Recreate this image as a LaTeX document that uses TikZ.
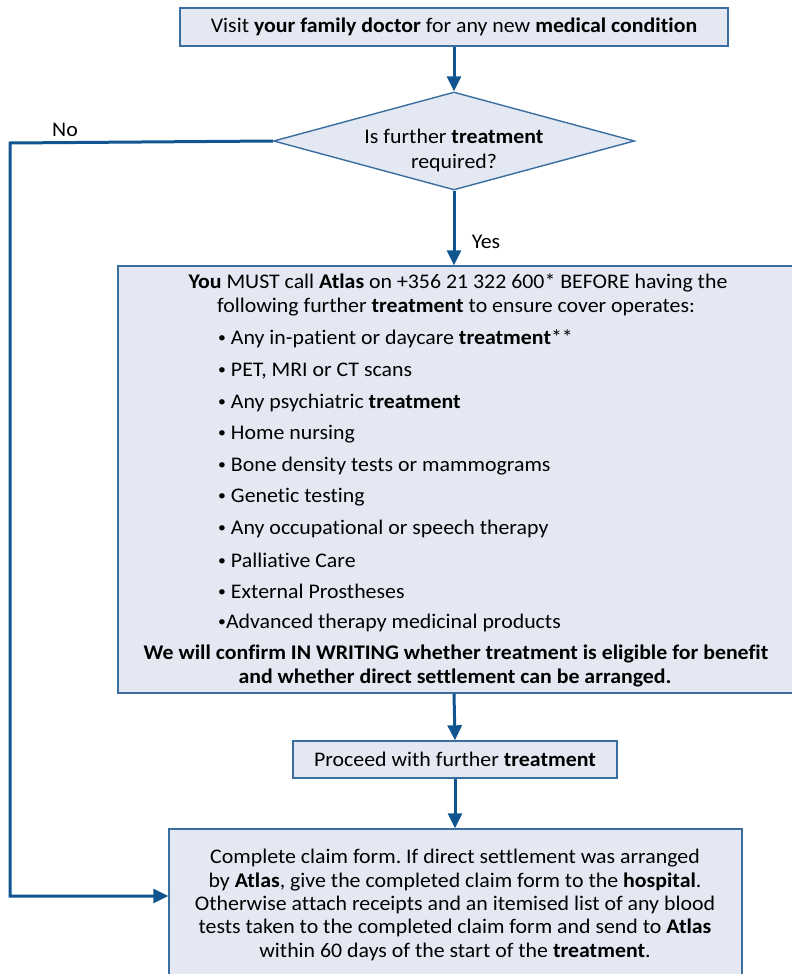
\documentclass[tikz,border=0pt]{standalone}
\usepackage{fontspec}
\setmainfont{Carlito}[FakeStretch=1.05, Ligatures={NoCommon}]
\usetikzlibrary{arrows.meta,shapes.geometric,calc}
\definecolor{boxfill}{HTML}{E3E8F3}
\definecolor{boxline}{HTML}{3A6E9F}
\definecolor{arrowc}{HTML}{10558F}
\newcommand{\smbul}{\raisebox{0.1em}{\scalebox{0.72}{•}}}
\frenchspacing
\begin{document}
\begin{tikzpicture}[x=1pt,y=-1pt,
  every node/.style={font=\fontsize{20.8}{24}\selectfont, text=black},
  box/.style={draw=boxline, fill=boxfill, line width=1.4pt, inner sep=0pt},
  flow/.style={draw=arrowc, line width=3pt, -{Triangle[length=15pt,width=14pt]}},
  txt/.style={inner sep=0pt, anchor=center},
  lefttxt/.style={inner sep=0pt, anchor=west}]
\useasboundingbox (0,0) rectangle (792,974);
\clip (0,0) rectangle (792,974);

% boxes
\node[box, minimum width=548pt, minimum height=38pt] (visit) at (454,27) {Visit \textbf{your family doctor} for any new \textbf{medical condition}};
\node[box, shape=diamond, minimum width=361pt, minimum height=98pt] (q) at (454,141) {};
\node[txt, align=center, font=\fontsize{20.8}{25}\selectfont] (qtext) at (454,150) {Is further \textbf{treatment}\\required?};
\node[box, minimum width=690pt, minimum height=427pt] (big) at (463,479.5) {};
\node[box, minimum width=324pt, minimum height=37pt] (proceed) at (455,759.5) {Proceed with further \textbf{treatment}};
\node[box, minimum width=573pt, minimum height=170pt] (claim) at (455.5,914) {};

% big box text
\node[txt] (h1) at (458,283) {\textbf{You} MUST call \textbf{Atlas} on +356 21 322 600* BEFORE having the};
\node[txt] (h2) at (456,307) {following further \textbf{treatment} to ensure cover operates:};
\node[lefttxt] (b1) at (218,339) {\smbul{} Any in-patient or daycare \textbf{treatment}**};
\node[lefttxt] (b2) at (218,371) {\smbul{} PET, MRI or CT scans};
\node[lefttxt] (b3) at (218,403) {\smbul{} Any psychiatric \textbf{treatment}};
\node[lefttxt] (b4) at (218,434) {\smbul{} Home nursing};
\node[lefttxt] (b5) at (218,466) {\smbul{} Bone density tests or mammograms};
\node[lefttxt] (b6) at (218,497) {\smbul{} Genetic testing};
\node[lefttxt] (b7) at (218,529) {\smbul{} Any occupational or speech therapy};
\node[lefttxt] (b8) at (218,560) {\smbul{} Palliative Care};
\node[lefttxt] (b9) at (218,591) {\smbul{} External Prostheses};
\node[lefttxt] (b10) at (218,623) {\smbul{}Advanced therapy medicinal products};
\node[txt] (f1) at (456,654) {\textbf{We will confirm IN WRITING whether treatment is eligible for benefit}};
\node[txt] (f2) at (455,678) {\textbf{and whether direct settlement can be arranged.}};

% claim text
\node[txt, align=center, font=\fontsize{20.8}{23.4}\selectfont] (ctext) at (455,905) {Complete claim form. If direct settlement was arranged\\
by \textbf{Atlas}, give the completed claim form to the \textbf{hospital}.\\
Otherwise attach receipts and an itemised list of any blood\\
tests taken to the completed claim form and send to \textbf{Atlas}\\
within 60 days of the start of the \textbf{treatment}.};

% labels
\node[txt] (yes) at (486,242) {Yes};
\node[txt] (no) at (65,130) {No};

% connectors
\coordinate (nocorner1) at (10,143);
\coordinate (nocorner2) at (10,896);
\draw[flow] (visit.south -| q.north) -- (q.north);
\draw[flow] (q.south) -- (q.south |- big.north);
\draw[flow] (q.south |- big.south) -- (proceed.north);
\draw[flow] (proceed.south) -- (proceed.south |- claim.north);
\draw[flow, line join=miter] (q.west) -- (nocorner1) -- (nocorner2) -- (nocorner2 -| claim.west);
\end{tikzpicture}
\end{document}
